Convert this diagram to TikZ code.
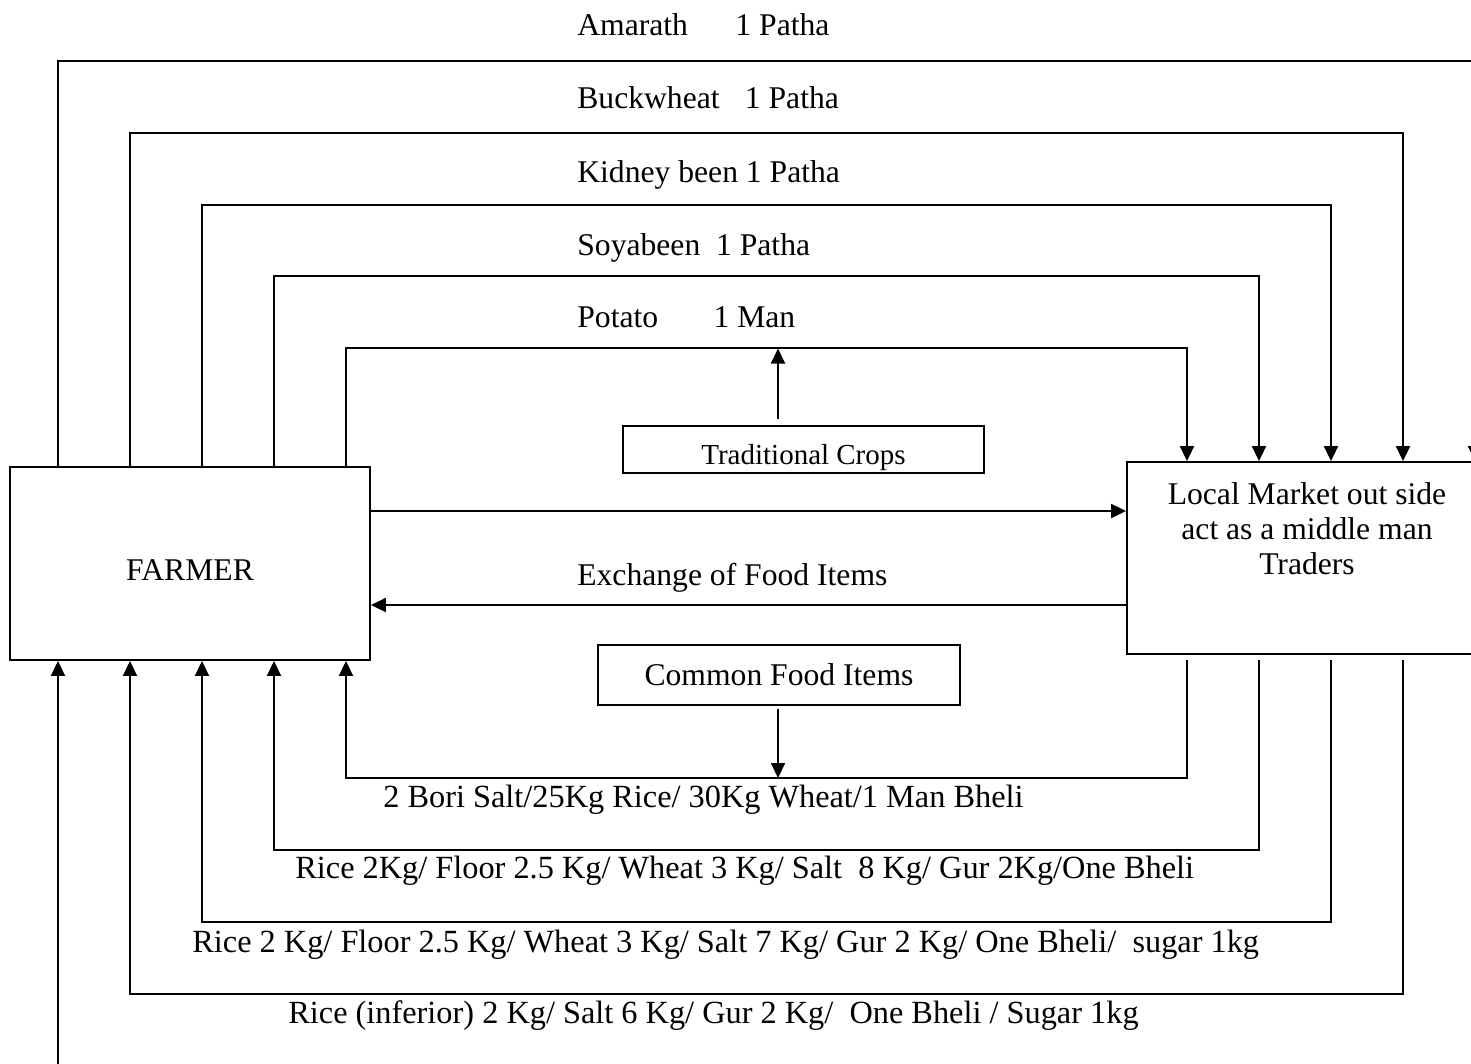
\documentclass[tikz,border=0pt]{standalone}
\usepackage{fontspec}
\setmainfont{Liberation Serif}
\usetikzlibrary{arrows.meta}
\usetikzlibrary{positioning}

\tikzset{
  blk/.style={draw, line width=1.1pt, inner sep=0pt, align=center},
  flow/.style={line width=1.1pt, -{Triangle[length=0.3cm,width=0.28cm]}},
  lbl/.style={anchor=base west, inner sep=0pt},
  qty/.style={lbl, font=\fontsize{18.4}{20}\selectfont},
}

\begin{document}
\begin{tikzpicture}[x=0.02cm, y=-0.02cm, font=\fontsize{18}{20}\selectfont]
			\clip (0,0) rectangle (1471,1063);
			\useasboundingbox (0,0) rectangle (1471,1063);
			% the two parties
			\node[blk, minimum width=7.2cm, minimum height=3.86cm, text height=0.66cm, text depth=0pt] (farmer) at (190,563.5) {FARMER};
			\node[blk, minimum width=7.2cm, minimum height=3.84cm] (market) at (1307,558) {};
			\node[anchor=north, inner sep=0pt, align=center] (mkttxt) at (1307,482) {Local Market out side\\act as a middle man\\Traders};
			\node[blk, minimum width=7.22cm, minimum height=0.94cm, text height=0.6cm, text depth=0pt, font=\fontsize{16.5}{18}\selectfont] (trad) at (803.5,449.5) {Traditional Crops};
			\node[blk, minimum width=7.24cm, minimum height=1.2cm] (common) at (779,675) {Common Food Items};
			% crops go up and over, food items come back under
			\foreach \i in {0,...,4} {
				\pgfmathsetmacro{\xl}{58+72*\i}
				\pgfmathsetmacro{\xr}{1475-72*\i}
				\pgfmathsetmacro{\yt}{61+71.8*\i}
				\pgfmathsetmacro{\yb}{1066-72*\i}
				\draw[flow] (\xl,0 |- farmer.north) |- (\xr,\yt) -- (\xr,0 |- market.north);
				\draw[flow, shorten <=0.1cm] (\xr,0 |- market.south) |- (\xl,\yb) -- (\xl,0 |- farmer.south);
			}
			\coordinate (tradhit) at (778,348.5);
			\coordinate (commonhit) at (778,778);
			\draw[flow, shorten <=0.12cm] (778,0 |- trad.north) -- (tradhit);
			\draw[flow, shorten <=0.06cm] (778,0 |- common.south) -- (commonhit);
			\draw[flow] (farmer.east |- 0,511) -- (market.west |- 0,511);
			\draw[flow] (market.west |- 0,605) -- (farmer.east |- 0,605);
			\node[lbl] (exch) at (577,585) {Exchange of Food Items};
			% quantities
			\node[lbl] (amarath) at (577,35) {Amarath\hspace{1.25em} 1 Patha};
			\node[lbl] (buck) at (577,108) {Buckwheat\hspace{0.55em} 1 Patha};
			\node[lbl] (kidney) at (577,182) {Kidney been 1 Patha};
			\node[lbl] (soya) at (577,255) {Soyabeen\hspace{0.25em} 1 Patha};
			\node[lbl] (potato) at (577,327) {Potato\hspace{1.5em} 1 Man};
			\node[qty] (qty4) at (383,807) {2 Bori Salt/25Kg Rice/ 30Kg Wheat/1 Man Bheli};
			\node[qty] (qty3) at (295,878) {Rice 2Kg/ Floor 2.5 Kg/ Wheat 3 Kg/ Salt\hspace{0.25em} 8 Kg/ Gur 2Kg/One Bheli};
			\node[qty] (qty2) at (192,952) {Rice 2 Kg/ Floor 2.5 Kg/ Wheat 3 Kg/ Salt 7 Kg/ Gur 2 Kg/ One Bheli/\hspace{0.25em} sugar 1kg};
			\node[qty] (qty1) at (288,1023) {Rice (inferior) 2 Kg/ Salt 6 Kg/ Gur 2 Kg/\hspace{0.25em} One Bheli / Sugar 1kg};
\end{tikzpicture}
\end{document}
